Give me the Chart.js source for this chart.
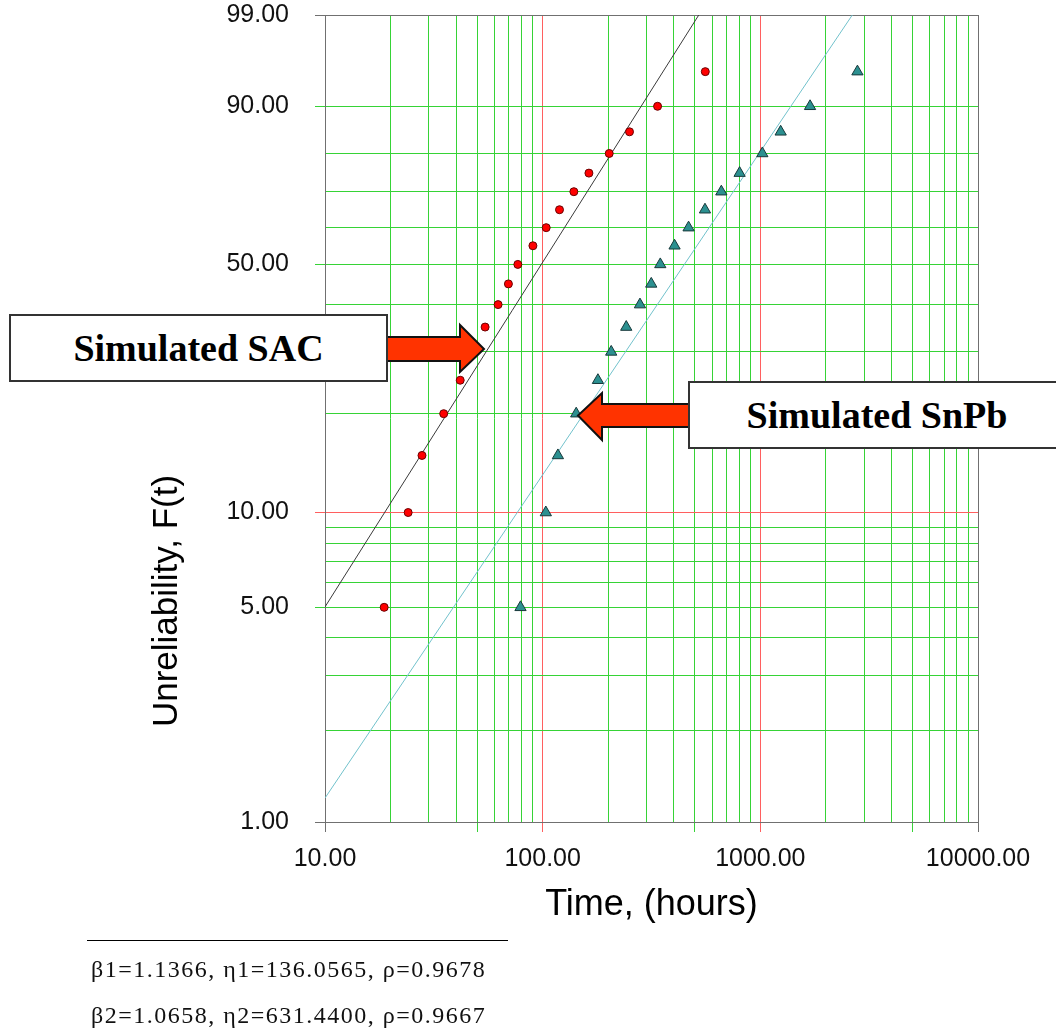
<!DOCTYPE html>
<html>
<head>
<meta charset="utf-8">
<title>Weibull plot - SAC vs SnPb</title>
<script src="https://cdn.jsdelivr.net/npm/chart.js@4.4.0/dist/chart.umd.min.js"></script>
<style>
    html, body { margin: 0; padding: 0; background: #fff; }
    #wrap { position: relative; width: 1056px; height: 1032px; overflow: hidden; }
    #wykres { position: absolute; left: 0; top: 0; }
    .box {
        position: absolute; background: #fff; border: 2px solid #333; box-sizing: border-box;
        display: flex; align-items: center; justify-content: center;
        font: bold 38px "Liberation Serif", "Times New Roman", serif; color: #000;
    }
    #ytitle {
        position: absolute; width: 320px; height: 40px; line-height: 40px; text-align: center;
        font: 35px "Liberation Sans", Arial, sans-serif; color: #000;
        transform: rotate(-90deg); white-space: nowrap;
    }
    #fitRule { position: absolute; left: 87px; top: 940px; width: 421px; border-top: 1px solid #000; }
    .fit {
        position: absolute; left: 91px; line-height: 24px; white-space: nowrap;
        font: 24px "Liberation Serif", "Times New Roman", serif; letter-spacing: 1.5px; color: #111;
    }
</style>
</head>
<body>
<div id="wrap">
    <canvas id="wykres" width="1056" height="1032"></canvas>
    <div id="ytitle" style="left:5px; top:581px;">Unreliability, F(t)</div>
    <div class="box" style="left:9px; top:314px; width:379px; height:68px;">Simulated SAC</div>
    <div class="box" style="left:688px; top:381px; width:378px; height:68px;">Simulated SnPb</div>
    <div id="fitRule"></div>
    <div class="fit" id="fit1" style="top:956px;"></div>
    <div class="fit" id="fit2" style="top:1002px;"></div>
</div>
<script>
// median ranks (%) shared by both samples
const ranks = [5, 10, 15, 20, 25, 30, 35, 40, 45, 50, 55, 60, 65, 70, 75, 80, 85, 90, 95];
// failure times in hours
const sacTime = [18.7, 24.1, 27.9, 35.1, 41.8, 47.5, 54.4, 62.4, 69.6, 76.9, 90.2, 103.8, 119.5, 139.1, 163.1, 202.2, 250.6, 337.2, 558.6];
const snpbTime = [79.1, 103.4, 117.5, 142.6, 179.4, 206.5, 242.1, 279.9, 315.4, 347.0, 403.6, 468.1, 556.8, 661.9, 803.2, 1021.4, 1240.0, 1692.0, 2793.0];

// Weibull fits (SAC, SnPb)
const beta = [1.1366, 1.0658];
const eta = [136.0565, 631.4400];
const rho = [0.9678, 0.9667];

// axis grid
const xGrid = [10, 20, 30, 40, 50, 60, 70, 80, 90, 100, 200, 300, 400, 500, 600, 700, 800, 900,
               1000, 2000, 3000, 4000, 5000, 6000, 7000, 8000, 9000, 10000];
const xLabeled = [10, 100, 1000, 10000];
const xTicked = [10, 50, 100, 500, 1000, 5000, 10000];
const yGrid = [1, 2, 3, 4, 5, 6, 7, 8, 9, 10, 20, 30, 40, 50, 60, 70, 80, 90, 99];
const yLabeled = [1, 5, 10, 50, 90, 99];

const GREEN = '#36d336';
const RED = '#ff5f5f';
const FRAME = '#707070';

// Weibull probability paper: ln(-ln(1-F))
function weib(p) {
    return Math.log(-Math.log(1 - p / 100));
}

function fitLine(b, e) {
    const f = t => b * (Math.log(t) - Math.log(e));
    return [{ x: 10, y: f(10) }, { x: 10000, y: f(10000) }];
}

document.getElementById('fit1').textContent =
    `β1=${beta[0].toFixed(4)}, η1=${eta[0].toFixed(4)}, ρ=${rho[0].toFixed(4)}`;
document.getElementById('fit2').textContent =
    `β2=${beta[1].toFixed(4)}, η2=${eta[1].toFixed(4)}, ρ=${rho[1].toFixed(4)}`;

// red block arrows pointing at the two data sets
const strzalki = {
    id: 'strzalki',
    afterDatasetsDraw(chart) {
        const ctx = chart.ctx;
        function arrow(pts) {
            ctx.beginPath();
            ctx.moveTo(pts[0][0], pts[0][1]);
            for (let i = 1; i < pts.length; i++) ctx.lineTo(pts[i][0], pts[i][1]);
            ctx.closePath();
            ctx.fillStyle = '#ff3300';
            ctx.fill();
            ctx.lineWidth = 2;
            ctx.strokeStyle = '#111';
            ctx.stroke();
        }
        ctx.save();
        arrow([[380, 337], [460, 337], [460, 325], [484, 349], [460, 372], [460, 361], [380, 361]]);
        arrow([[700, 404], [602, 404], [602, 393], [578, 415.5], [602, 440], [602, 427], [700, 427]]);
        ctx.restore();
    }
};

const tickFont = { family: '"Liberation Sans", Arial, sans-serif', size: 25 };

new Chart(document.getElementById('wykres').getContext('2d'), {
    data: {
        datasets: [
            {
                type: 'scatter',
                label: 'Simulated SAC',
                data: sacTime.map((t, i) => ({ x: t, y: weib(ranks[i]) })),
                pointStyle: 'circle',
                pointRadius: 4,
                backgroundColor: '#ff0000',
                borderColor: '#6a0000',
                borderWidth: 1
            },
            {
                type: 'scatter',
                label: 'Simulated SnPb',
                data: snpbTime.map((t, i) => ({ x: t, y: weib(ranks[i]) })),
                pointStyle: 'triangle',
                pointRadius: 6.5,
                backgroundColor: '#2c9090',
                borderColor: '#17383a',
                borderWidth: 1
            },
            {
                type: 'line',
                label: 'SAC fit',
                data: fitLine(beta[0], eta[0]),
                borderColor: '#3a3a3a',
                borderWidth: 1,
                pointRadius: 0
            },
            {
                type: 'line',
                label: 'SnPb fit',
                data: fitLine(beta[1], eta[1]),
                borderColor: '#72c2cc',
                borderWidth: 1,
                pointRadius: 0
            }
        ]
    },
    options: {
        responsive: false,
        animation: false,
        layout: { padding: { top: 15, right: 78, left: 0, bottom: 0 } },
        plugins: {
            legend: { display: false },
            tooltip: { enabled: false }
        },
        scales: {
            x: {
                type: 'logarithmic',
                min: 10,
                max: 10000,
                afterFit: s => { s.height = 210; },
                afterBuildTicks: s => { s.ticks = xGrid.map(v => ({ value: v })); },
                ticks: {
                    autoSkip: false,
                    maxRotation: 0,
                    padding: 12,
                    color: '#111',
                    font: tickFont,
                    callback: v => xLabeled.includes(v) ? v.toFixed(2) : ''
                },
                grid: {
                    lineWidth: 1,
                    tickLength: 10,
                    color: c => {
                        const v = c.tick ? c.tick.value : 0;
                        if (v === 100 || v === 1000) return RED;
                        if (v === 10 || v === 10000) return FRAME;
                        return GREEN;
                    },
                    tickColor: c => {
                        const v = c.tick ? c.tick.value : 0;
                        if (!xTicked.includes(v)) return 'rgba(0,0,0,0)';
                        if (v === 100 || v === 1000) return RED;
                        if (v === 10 || v === 10000) return FRAME;
                        return GREEN;
                    }
                },
                border: { display: true, color: FRAME, width: 1 },
                title: {
                    display: true,
                    text: 'Time, (hours)',
                    color: '#000',
                    font: { family: '"Liberation Sans", Arial, sans-serif', size: 36 },
                    padding: { top: 0, bottom: 105 }
                }
            },
            y: {
                type: 'linear',
                min: weib(1),
                max: weib(99),
                // fixed width; label overhang is allowed to spill above the frame
                afterFit: s => { s.width = 325; s.paddingTop = 0; s.paddingBottom = 0; },
                afterBuildTicks: s => { s.ticks = yGrid.map(p => ({ value: weib(p) })); },
                ticks: {
                    autoSkip: false,
                    padding: 26,
                    color: '#111',
                    font: tickFont,
                    callback: (v, i) => yLabeled.includes(yGrid[i]) ? yGrid[i].toFixed(2) : ''
                },
                grid: {
                    lineWidth: 1,
                    tickLength: 10,
                    color: c => {
                        const p = yGrid[c.index];
                        if (p === 10) return RED;
                        if (p === 1 || p === 99) return FRAME;
                        return GREEN;
                    },
                    tickColor: c => {
                        const p = yGrid[c.index];
                        if (!yLabeled.includes(p)) return 'rgba(0,0,0,0)';
                        if (p === 10) return RED;
                        if (p === 1 || p === 99) return FRAME;
                        return GREEN;
                    }
                },
                border: { display: true, color: FRAME, width: 1 }
            }
        }
    },
    plugins: [strzalki]
});
</script>
</body>
</html>
